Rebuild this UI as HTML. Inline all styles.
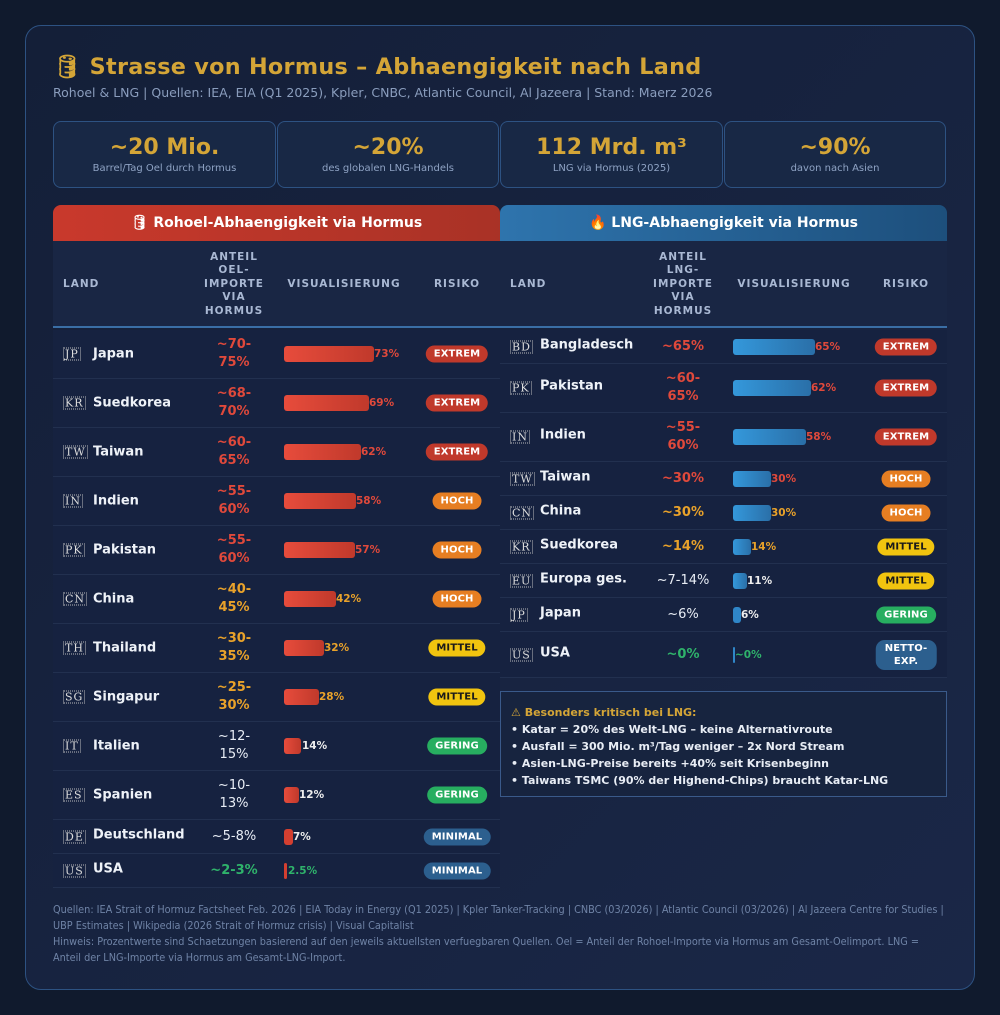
<!DOCTYPE html>
<html><head><meta charset="utf-8"><style>
*{margin:0;padding:0;box-sizing:border-box}
body{width:1000px;height:1015px;background:#101a2d;font-family:"DejaVu Sans","Liberation Sans",sans-serif;position:relative;overflow:hidden}
.card{position:absolute;left:25px;top:25px;width:950px;height:965px;border:1px solid #2d5282;border-radius:16px;background:linear-gradient(135deg,#141f38,#1a2747)}
.abs{position:absolute}
.title{left:53px;top:54px;font-size:22.3px;font-weight:bold;color:#d4a537;letter-spacing:.3px}
.sub{left:53px;top:85px;font-size:12.5px;color:#8a9dbd}
.stat{top:121px;height:67px;border:1px solid #2d5282;border-radius:8px;background:#182845;text-align:center}
.stat b{display:block;font-size:22px;color:#d4a537;margin-top:13px}
.stat span{display:block;font-size:10px;color:#8fa3c4;margin-top:3px}
.hdr{top:205px;height:37px;border-radius:8px 8px 0 0;color:#fff;font-weight:bold;font-size:14px;text-align:center;line-height:37px}
.ch{top:241px;height:87px;background:#192644;border-bottom:2px solid #3a6ea5}
.ch div{position:absolute;top:0;height:87px;display:flex;align-items:center;justify-content:center;text-align:center;font-size:10.5px;font-weight:bold;color:#a9b8d3;letter-spacing:1px;line-height:13.5px}
.row{position:absolute;border-bottom:1px solid #22304f;background:#162240}
.row>*{position:absolute;top:50%;transform:translateY(-50%)}
.flag{font-family:"DejaVu Serif",serif;font-size:11px;color:#ddd;border:1px dotted #bbb;padding:0 1px;line-height:11px;letter-spacing:1px}
.nm{font-size:13px;font-weight:bold;color:#eef2f8}
.an{font-size:13px;font-weight:bold;text-align:center;line-height:18px;width:90px}
.bar{height:16px;border-radius:3px}
.bl{font-size:10.5px;font-weight:bold}
.bd{font-size:10px;font-weight:bold;color:#fff;border-radius:9px;padding:3px 8px;text-align:center;letter-spacing:.1px;transform:translate(-50%,-50%)!important}
.red{color:#e0493b}.or{color:#e9a22a}.wh{color:#e8edf5;font-weight:normal}.gr{color:#2fb36b}
.note{left:500px;top:691px;width:447px;height:106px;border:1px solid #3a5a8a;background:#17243f;padding:12px 10px;font-size:11px;font-weight:bold;color:#e8edf5;line-height:17px}
.foot{left:53px;top:902px;width:895px;font-family:"DejaVu Sans Condensed","DejaVu Sans",sans-serif;font-stretch:condensed;font-size:10.8px;color:#6f83a6;line-height:16px}
</style></head><body>
<div class="card"></div>
<div class="abs title">🛢 Strasse von Hormus – Abhaengigkeit nach Land</div>
<div class="abs sub">Rohoel &amp; LNG | Quellen: IEA, EIA (Q1 2025), Kpler, CNBC, Atlantic Council, Al Jazeera | Stand: Maerz 2026</div>
<div class="abs stat" style="left:53px;width:223px"><b>~20 Mio.</b><span>Barrel/Tag Oel durch Hormus</span></div>
<div class="abs stat" style="left:277px;width:222px"><b>~20%</b><span>des globalen LNG-Handels</span></div>
<div class="abs stat" style="left:500px;width:223px"><b>112 Mrd. m³</b><span>LNG via Hormus (2025)</span></div>
<div class="abs stat" style="left:724px;width:222px"><b>~90%</b><span>davon nach Asien</span></div>

<div class="abs hdr" style="left:53px;width:447px;background:linear-gradient(90deg,#c9392c,#a93226)">🛢 Rohoel-Abhaengigkeit via Hormus</div>
<div class="abs hdr" style="left:500px;width:447px;background:linear-gradient(90deg,#2e74ad,#1d4f7c)">🔥 LNG-Abhaengigkeit via Hormus</div>

<div class="abs ch" style="left:53px;width:447px">
<div style="left:10px;justify-content:flex-start">LAND</div>
<div style="left:141px;width:80px">ANTEIL<br>OEL-<br>IMPORTE<br>VIA<br>HORMUS</div>
<div style="left:225px;width:132px">VISUALISIERUNG</div>
<div style="left:364px;width:80px">RISIKO</div>
</div>
<div class="abs ch" style="left:500px;width:447px">
<div style="left:10px;justify-content:flex-start">LAND</div>
<div style="left:143px;width:80px">ANTEIL<br>LNG-<br>IMPORTE<br>VIA<br>HORMUS</div>
<div style="left:228px;width:132px">VISUALISIERUNG</div>
<div style="left:366px;width:80px">RISIKO</div>
</div>

<!-- LEFT ROWS -->
<div class="row" style="left:53px;top:330px;width:447px;height:49px"><span class="flag" style="left:10px">JP</span><span class="nm" style="left:40px">Japan</span><span class="an red" style="left:136px">~70-<br>75%</span><span class="bar" style="left:231px;width:90px;background:linear-gradient(90deg,#e74c3c,#c0392b)"></span><span class="bl red" style="left:321px">73%</span><span class="bd" style="left:404px;background:#c0392b">EXTREM</span></div>
<div class="row" style="left:53px;top:379px;width:447px;height:49px"><span class="flag" style="left:10px">KR</span><span class="nm" style="left:40px">Suedkorea</span><span class="an red" style="left:136px">~68-<br>70%</span><span class="bar" style="left:231px;width:85px;background:linear-gradient(90deg,#e74c3c,#c0392b)"></span><span class="bl red" style="left:316px">69%</span><span class="bd" style="left:404px;background:#c0392b">EXTREM</span></div>
<div class="row" style="left:53px;top:428px;width:447px;height:49px"><span class="flag" style="left:10px">TW</span><span class="nm" style="left:40px">Taiwan</span><span class="an red" style="left:136px">~60-<br>65%</span><span class="bar" style="left:231px;width:77px;background:linear-gradient(90deg,#e74c3c,#c0392b)"></span><span class="bl red" style="left:308px">62%</span><span class="bd" style="left:404px;background:#c0392b">EXTREM</span></div>
<div class="row" style="left:53px;top:477px;width:447px;height:49px"><span class="flag" style="left:10px">IN</span><span class="nm" style="left:40px">Indien</span><span class="an red" style="left:136px">~55-<br>60%</span><span class="bar" style="left:231px;width:72px;background:linear-gradient(90deg,#e74c3c,#c0392b)"></span><span class="bl red" style="left:303px">58%</span><span class="bd" style="left:404px;background:#e67e22">HOCH</span></div>
<div class="row" style="left:53px;top:526px;width:447px;height:49px"><span class="flag" style="left:10px">PK</span><span class="nm" style="left:40px">Pakistan</span><span class="an red" style="left:136px">~55-<br>60%</span><span class="bar" style="left:231px;width:71px;background:linear-gradient(90deg,#e74c3c,#c0392b)"></span><span class="bl red" style="left:302px">57%</span><span class="bd" style="left:404px;background:#e67e22">HOCH</span></div>
<div class="row" style="left:53px;top:575px;width:447px;height:49px"><span class="flag" style="left:10px">CN</span><span class="nm" style="left:40px">China</span><span class="an or" style="left:136px">~40-<br>45%</span><span class="bar" style="left:231px;width:52px;background:linear-gradient(90deg,#e74c3c,#c0392b)"></span><span class="bl or" style="left:283px">42%</span><span class="bd" style="left:404px;background:#e67e22">HOCH</span></div>
<div class="row" style="left:53px;top:624px;width:447px;height:49px"><span class="flag" style="left:10px">TH</span><span class="nm" style="left:40px">Thailand</span><span class="an or" style="left:136px">~30-<br>35%</span><span class="bar" style="left:231px;width:40px;background:linear-gradient(90deg,#e74c3c,#c0392b)"></span><span class="bl or" style="left:271px">32%</span><span class="bd" style="left:404px;background:#f1c40f;color:#1a1a1a">MITTEL</span></div>
<div class="row" style="left:53px;top:673px;width:447px;height:49px"><span class="flag" style="left:10px">SG</span><span class="nm" style="left:40px">Singapur</span><span class="an or" style="left:136px">~25-<br>30%</span><span class="bar" style="left:231px;width:35px;background:linear-gradient(90deg,#e74c3c,#c0392b)"></span><span class="bl or" style="left:266px">28%</span><span class="bd" style="left:404px;background:#f1c40f;color:#1a1a1a">MITTEL</span></div>
<div class="row" style="left:53px;top:722px;width:447px;height:49px"><span class="flag" style="left:10px">IT</span><span class="nm" style="left:40px">Italien</span><span class="an wh" style="left:136px">~12-<br>15%</span><span class="bar" style="left:231px;width:17px;background:linear-gradient(90deg,#e74c3c,#c0392b)"></span><span class="bl" style="left:249px;color:#eee">14%</span><span class="bd" style="left:404px;background:#27ae60">GERING</span></div>
<div class="row" style="left:53px;top:771px;width:447px;height:49px"><span class="flag" style="left:10px">ES</span><span class="nm" style="left:40px">Spanien</span><span class="an wh" style="left:136px">~10-<br>13%</span><span class="bar" style="left:231px;width:15px;background:linear-gradient(90deg,#e74c3c,#c0392b)"></span><span class="bl" style="left:246px;color:#eee">12%</span><span class="bd" style="left:404px;background:#27ae60">GERING</span></div>
<div class="row" style="left:53px;top:820px;width:447px;height:34px"><span class="flag" style="left:10px">DE</span><span class="nm" style="left:40px;margin-top:-2px">Deutschland</span><span class="an wh" style="left:136px">~5-8%</span><span class="bar" style="left:231px;width:9px;background:#d43f30"></span><span class="bl" style="left:240px;color:#eee">7%</span><span class="bd" style="left:404px;background:#2c5f8e">MINIMAL</span></div>
<div class="row" style="left:53px;top:854px;width:447px;height:34px"><span class="flag" style="left:10px">US</span><span class="nm" style="left:40px;margin-top:-2px">USA</span><span class="an gr" style="left:136px">~2-3%</span><span class="bar" style="left:231px;width:3px;background:#d43f30"></span><span class="bl gr" style="left:235px">2.5%</span><span class="bd" style="left:404px;background:#2c5f8e">MINIMAL</span></div>

<!-- RIGHT ROWS -->
<div class="row" style="left:500px;top:330px;width:447px;height:34px"><span class="flag" style="left:10px">BD</span><span class="nm" style="left:40px;margin-top:-2px">Bangladesch</span><span class="an red" style="left:138px">~65%</span><span class="bar" style="left:233px;width:82px;background:linear-gradient(90deg,#3498db,#2a6fa8)"></span><span class="bl red" style="left:315px">65%</span><span class="bd" style="left:406px;background:#c0392b">EXTREM</span></div>
<div class="row" style="left:500px;top:364px;width:447px;height:49px"><span class="flag" style="left:10px">PK</span><span class="nm" style="left:40px;margin-top:-2px">Pakistan</span><span class="an red" style="left:138px">~60-<br>65%</span><span class="bar" style="left:233px;width:78px;background:linear-gradient(90deg,#3498db,#2a6fa8)"></span><span class="bl red" style="left:311px">62%</span><span class="bd" style="left:406px;background:#c0392b">EXTREM</span></div>
<div class="row" style="left:500px;top:413px;width:447px;height:49px"><span class="flag" style="left:10px">IN</span><span class="nm" style="left:40px;margin-top:-2px">Indien</span><span class="an red" style="left:138px">~55-<br>60%</span><span class="bar" style="left:233px;width:73px;background:linear-gradient(90deg,#3498db,#2a6fa8)"></span><span class="bl red" style="left:306px">58%</span><span class="bd" style="left:406px;background:#c0392b">EXTREM</span></div>
<div class="row" style="left:500px;top:462px;width:447px;height:34px"><span class="flag" style="left:10px">TW</span><span class="nm" style="left:40px;margin-top:-2px">Taiwan</span><span class="an red" style="left:138px">~30%</span><span class="bar" style="left:233px;width:38px;background:linear-gradient(90deg,#3498db,#2a6fa8)"></span><span class="bl red" style="left:271px">30%</span><span class="bd" style="left:406px;background:#e67e22">HOCH</span></div>
<div class="row" style="left:500px;top:496px;width:447px;height:34px"><span class="flag" style="left:10px">CN</span><span class="nm" style="left:40px;margin-top:-2px">China</span><span class="an or" style="left:138px">~30%</span><span class="bar" style="left:233px;width:38px;background:linear-gradient(90deg,#3498db,#2a6fa8)"></span><span class="bl or" style="left:271px">30%</span><span class="bd" style="left:406px;background:#e67e22">HOCH</span></div>
<div class="row" style="left:500px;top:530px;width:447px;height:34px"><span class="flag" style="left:10px">KR</span><span class="nm" style="left:40px;margin-top:-2px">Suedkorea</span><span class="an or" style="left:138px">~14%</span><span class="bar" style="left:233px;width:18px;background:linear-gradient(90deg,#3498db,#2a6fa8)"></span><span class="bl or" style="left:251px">14%</span><span class="bd" style="left:406px;background:#f1c40f;color:#1a1a1a">MITTEL</span></div>
<div class="row" style="left:500px;top:564px;width:447px;height:34px"><span class="flag" style="left:10px">EU</span><span class="nm" style="left:40px;margin-top:-2px">Europa ges.</span><span class="an wh" style="left:138px">~7-14%</span><span class="bar" style="left:233px;width:14px;background:linear-gradient(90deg,#3498db,#2a6fa8)"></span><span class="bl" style="left:247px;color:#eee">11%</span><span class="bd" style="left:406px;background:#f1c40f;color:#1a1a1a">MITTEL</span></div>
<div class="row" style="left:500px;top:598px;width:447px;height:34px"><span class="flag" style="left:10px">JP</span><span class="nm" style="left:40px;margin-top:-2px">Japan</span><span class="an wh" style="left:138px">~6%</span><span class="bar" style="left:233px;width:8px;background:#2f86c8"></span><span class="bl" style="left:241px;color:#eee">6%</span><span class="bd" style="left:406px;background:#27ae60">GERING</span></div>
<div class="row" style="left:500px;top:632px;width:447px;height:46px"><span class="flag" style="left:10px">US</span><span class="nm" style="left:40px;margin-top:-2px">USA</span><span class="an gr" style="left:138px">~0%</span><span class="bar" style="left:233px;width:2px;background:#2f86c8"></span><span class="bl gr" style="left:235px">~0%</span><span class="bd" style="left:406px;background:#2c5f8e;border-radius:9px;line-height:13px;padding:2px 9px">NETTO-<br>EXP.</span></div>

<div class="abs note"><span style="color:#d4a537">⚠ Besonders kritisch bei LNG:</span><br>• Katar = 20% des Welt-LNG – keine Alternativroute<br>• Ausfall = 300 Mio. m³/Tag weniger – 2x Nord Stream<br>• Asien-LNG-Preise bereits +40% seit Krisenbeginn<br>• Taiwans TSMC (90% der Highend-Chips) braucht Katar-LNG</div>

<div class="abs foot">Quellen: IEA Strait of Hormuz Factsheet Feb. 2026 | EIA Today in Energy (Q1 2025) | Kpler Tanker-Tracking | CNBC (03/2026) | Atlantic Council (03/2026) | Al Jazeera Centre for Studies | UBP Estimates | Wikipedia (2026 Strait of Hormuz crisis) | Visual Capitalist<br>Hinweis: Prozentwerte sind Schaetzungen basierend auf den jeweils aktuellsten verfuegbaren Quellen. Oel = Anteil der Rohoel-Importe via Hormus am Gesamt-Oelimport. LNG = Anteil der LNG-Importe via Hormus am Gesamt-LNG-Import.</div>
</body></html>
